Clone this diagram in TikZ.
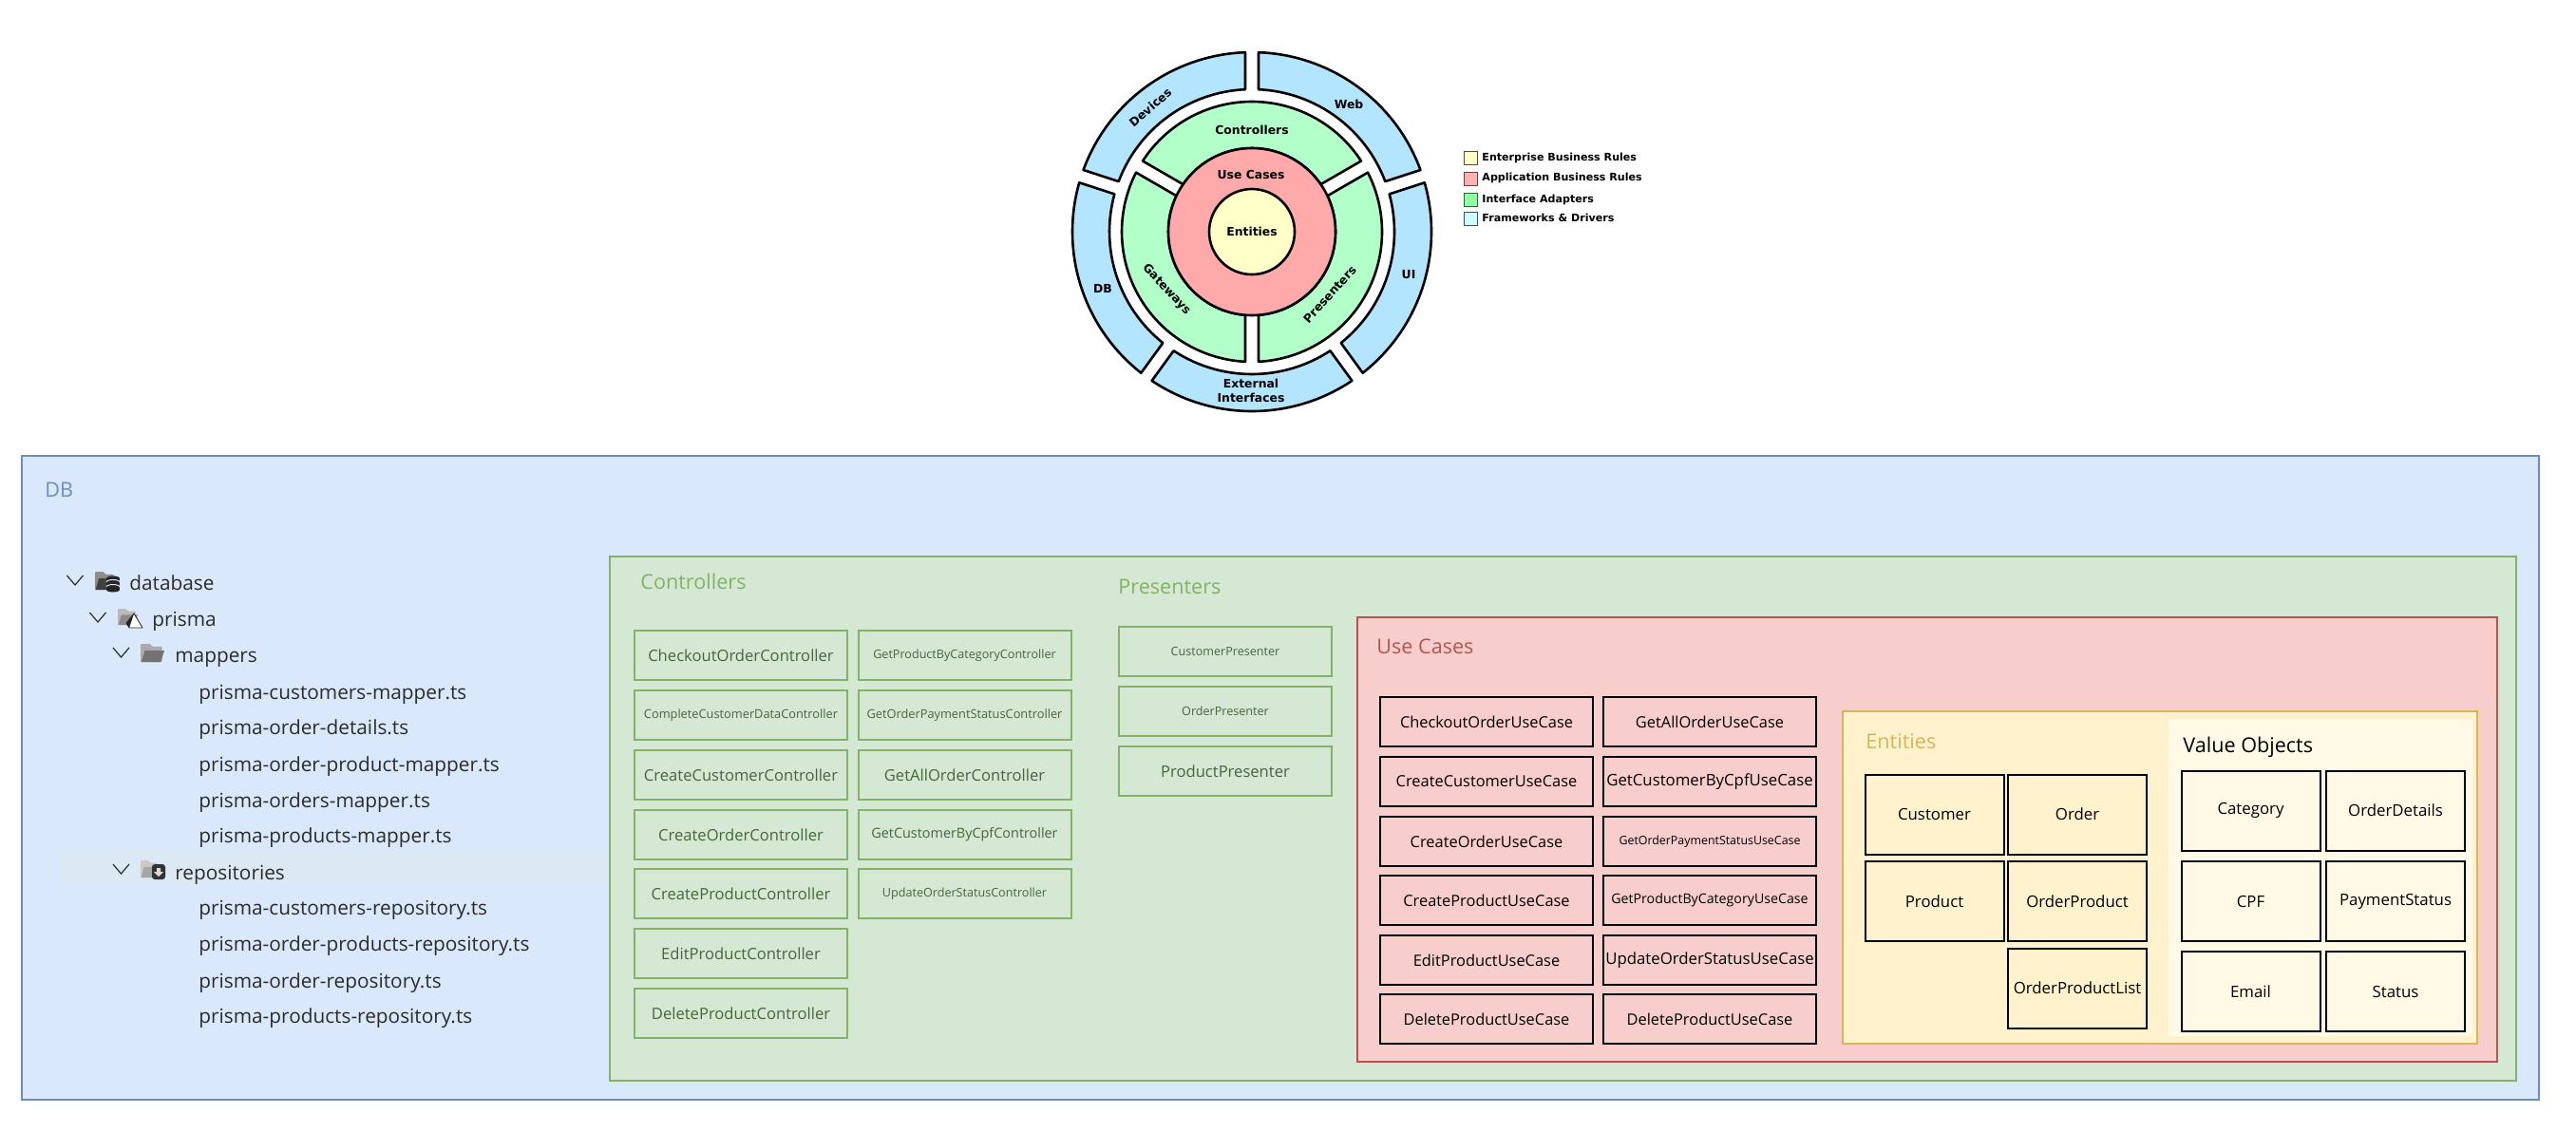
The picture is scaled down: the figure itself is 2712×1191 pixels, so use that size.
\documentclass[tikz,border=0pt]{standalone}
\usepackage{fontspec}
\setmainfont{Open Sans}
\newfontfamily\ringfont{DejaVu Sans}[BoldFont=DejaVu Sans Bold]
\definecolor{dbfill}{HTML}{DAE8FC}
\definecolor{dbline}{HTML}{6C8EBF}
\definecolor{ctrlfill}{HTML}{D5E8D4}
\definecolor{ctrlline}{HTML}{82B366}
\definecolor{ctrltext}{HTML}{47663A}
\definecolor{ucfill}{HTML}{F8CECC}
\definecolor{ucline}{HTML}{B85450}
\definecolor{entfill}{HTML}{FFF2CC}
\definecolor{entline}{HTML}{D6B656}
\definecolor{vofill}{HTML}{FFF9E6}
\definecolor{ringblue}{HTML}{B3E5FF}
\definecolor{ringgreen}{HTML}{B3FFC9}
\definecolor{ringred}{HTML}{FFAAAA}
\definecolor{ringyellow}{HTML}{FFFFC8}
\definecolor{treetext}{HTML}{2B2B2B}
\definecolor{treeband}{HTML}{DCE8F3}
\definecolor{folderdb}{HTML}{404040}
\definecolor{folderprisma}{HTML}{8C8C8C}
\definecolor{foldermap}{HTML}{737373}
\definecolor{folderrepo}{HTML}{A6A6A6}
\tikzset{
  layer/.style={draw=#1,line width=1.1pt,anchor=north west,inner sep=0pt},
  heading/.style={anchor=west,inner sep=0pt,font=\fontsize{10.8}{13}\selectfont},
  ctrlbox/.style={draw=ctrlline,line width=1pt,text=ctrltext,minimum width=112pt,minimum height=26pt,inner sep=0pt},
  ucbox/.style={draw=black,line width=1pt,minimum width=112pt,minimum height=25.7pt,inner sep=0pt},
  entbox/.style={draw=black,line width=1pt,minimum width=73pt,minimum height=42pt,inner sep=0pt},
  treeitem/.style={anchor=west,inner sep=0pt,text=treetext,text height=8pt,text depth=2.6pt,font=\fontsize{10.4}{12}\selectfont},
  ringlabel/.style={inner sep=0pt,font=\ringfont\bfseries\fontsize{6.2}{7.5}\selectfont},
  legendlabel/.style={anchor=west,inner sep=0pt,font=\ringfont\bfseries\fontsize{5.55}{6.5}\selectfont},
  legendbox/.style={draw=black!70,line width=.5pt,minimum size=7pt,inner sep=0pt,anchor=north west},
  chevron/.style={line width=.6pt,draw=treetext},
}
\newcommand{\ringseg}[5]{% colour, from, to, inner radius, outer radius
  \pgfmathsetmacro{\ao}{#2+asin(7/#5)}
  \pgfmathsetmacro{\bo}{#3-asin(7/#5)}
  \pgfmathsetmacro{\ai}{#2+asin(7/#4)}
  \pgfmathsetmacro{\bi}{#3-asin(7/#4)}
  \draw[fill=#1,line width=1.3pt,line join=round] (\ao:#5) arc[start angle=\ao,end angle=\bo,radius=#5]
    -- (\bi:#4) arc[start angle=\bi,end angle=\ai,radius=#4] -- cycle;
}
\newcommand{\folderglyph}[5]{% left, top, width, height, colour
  \fill[#5!60!white,rounded corners=0.5pt] (#1,#2) -- (#1+.4*#3,#2) -- (#1+.5*#3,#2+.15*#4) -- (#1+.9*#3,#2+.15*#4)
    -- (#1+.9*#3,#2+#4) -- (#1,#2+#4) -- cycle;
  \fill[#5] (#1+.18*#3,#2+.38*#4) -- (#1+#3,#2+.38*#4) -- (#1+.85*#3,#2+#4) -- (#1+.03*#3,#2+#4) -- cycle;
}
\begin{document}
\begin{tikzpicture}[x=0.5pt,y=-0.5pt]
  \useasboundingbox (0,0) rectangle (2712,1191);

  % clean architecture rings
  \begin{scope}[shift={(1318,244)},x=0.5pt,y=0.5pt]
    \ringseg{ringblue}{90}{162}{150}{189}
    \ringseg{ringblue}{18}{90}{150}{189}
    \ringseg{ringblue}{-54}{18}{150}{189}
    \ringseg{ringblue}{-126}{-54}{150}{189}
    \ringseg{ringblue}{-198}{-126}{150}{189}
    \ringseg{ringgreen}{30}{150}{88}{137}
    \ringseg{ringgreen}{-90}{30}{88}{137}
    \ringseg{ringgreen}{150}{270}{88}{137}
    \draw[fill=ringred,line width=1.3pt] (0,0) circle[radius=88];
    \draw[fill=ringyellow,line width=1.3pt] (0,0) circle[radius=45];
  \end{scope}
  \node[ringlabel] (entities) at (1318,244) {Entities};
  \node[ringlabel] (usecases) at (1317,184) {Use Cases};
  \node[ringlabel] (controllers) at (1318,137) {Controllers};
  \node[ringlabel,rotate=-47] (gateways) at (1228,305) {Gateways};
  \node[ringlabel,rotate=48] (presenters) at (1400,310) {Presenters};
  \node[ringlabel,rotate=41] (devices) at (1211,113) {Devices};
  \node[ringlabel] (web) at (1420,110) {Web};
  \node[ringlabel] (ui) at (1483,289) {UI};
  \node[ringlabel] (dbring) at (1161,304) {DB};
  \node[ringlabel,align=center] (external) at (1317,411) {External\\Interfaces};

  % legend
  \foreach \nm/\clr/\ybox/\ytxt/\lbl in {ent/ringyellow/159/166/Enterprise Business Rules,
      app/ringred!60!pink/181/187/Application Business Rules,
      ifc/ringgreen!80!green/203/210/Interface Adapters,
      fwk/ringblue!50!cyan!30/223/229/Frameworks \& Drivers} {
    \node[legendbox,fill=\clr] (sw\nm) at (1541,\ybox) {};
    \node[legendlabel] (lg\nm) at (1560,\ytxt) {\lbl};
  }

  % nested layers
  \node[layer=dbline,fill=dbfill,minimum width=1325pt,minimum height=339pt] (dblayer) at (22,479) {};
  \fill[treeband] (63,896) rectangle (640,931);
  \node[layer=ctrlline,fill=ctrlfill,minimum width=1003.5pt,minimum height=276pt] (ctrllayer) at (641,585) {};
  \node[layer=ucline,fill=ucfill,minimum width=600pt,minimum height=234pt] (uclayer) at (1428,649) {};
  \node[layer=entline,fill=entfill,minimum width=334pt,minimum height=175pt] (entlayer) at (1939,748) {};
  \fill[vofill] (2283,757) rectangle (2603,1091);

  \node[heading,text=dbline] (dblabel) at (47,516) {DB};
  \node[heading,text=ctrlline] (ctrllabel) at (674,612) {Controllers};
  \node[heading,text=ctrlline] (preslabel) at (1177,618) {Presenters};
  \node[heading,text=ucline] (uclabel) at (1449,681) {Use Cases};
  \node[heading,text=entline] (entlabel) at (1964,781) {Entities};
  \node[heading] (volabel) at (2298,787) {Value Objects};

  % controllers, presenters
  \foreach \y/\lbl/\sz in {690/CheckoutOrderController/8.3,753/CompleteCustomerDataController/6.4,
      816/CreateCustomerController/8.3,879/CreateOrderController/8.3,941/CreateProductController/8.3,
      1004/EditProductController/8.3,1067/DeleteProductController/8.3} {
    \node[ctrlbox,font=\fontsize{\sz}{10}\selectfont] (\lbl) at (780,\y) {\lbl};
  }
  \foreach \y/\lbl/\sz in {690/GetProductByCategoryController/6.3,753/GetOrderPaymentStatusController/6.4,
      816/GetAllOrderController/8.3,879/GetCustomerByCpfController/7.2,941/UpdateOrderStatusController/6.3} {
    \node[ctrlbox,font=\fontsize{\sz}{10}\selectfont] (\lbl) at (1015.5,\y) {\lbl};
  }
  \foreach \y/\lbl/\sz in {686/CustomerPresenter/6.3,749/OrderPresenter/6.3,812/ProductPresenter/8.3} {
    \node[ctrlbox,font=\fontsize{\sz}{10}\selectfont] (\lbl) at (1290,\y) {\lbl};
  }

  % use cases
  \foreach \y/\lbl in {760/CheckoutOrderUseCase,823/CreateCustomerUseCase,886/CreateOrderUseCase,
      948/CreateProductUseCase,1011/EditProductUseCase,1073/DeleteProductUseCase} {
    \node[ucbox,font=\fontsize{8.2}{10}\selectfont] (\lbl) at (1565,\y) {\lbl};
  }
  \foreach \y/\nm/\lbl/\sz in {760/get1/GetAllOrderUseCase/8.2,823/get2/GetCustomerByCpfUseCase/8.4,
      886/get3/GetOrderPaymentStatusUseCase/6.2,948/get4/GetProductByCategoryUseCase/7.1,
      1011/upd1/UpdateOrderStatusUseCase/8.4,1073/del2/DeleteProductUseCase/8.2} {
    \node[ucbox,font=\fontsize{\sz}{10}\selectfont] (\nm) at (1800,\y) {\lbl};
  }

  % entities, value objects
  \foreach \x/\y/\lbl in {2036.5/857.5/Customer,2187/857.5/Order,2036.5/949/Product,2187/949/OrderProduct,
      2187/1040.5/OrderProductList,2369.5/853.5/Category,2522/853.5/OrderDetails,2369.5/949/CPF,
      2522/949/PaymentStatus,2369.5/1044/Email,2522/1044/Status} {
    \node[entbox,font=\fontsize{8.4}{10}\selectfont] (\lbl) at (\x,\y) {\lbl};
  }

  % file tree
  \foreach \x/\y/\lbl in {136/616/database,160/654/prisma,184/692/mappers,209/731/prisma-customers-mapper.ts,
      209/768/prisma-order-details.ts,209/807/prisma-order-product-mapper.ts,209/845/prisma-orders-mapper.ts,
      209/882/prisma-products-mapper.ts,184/921/repositories,209/958/prisma-customers-repository.ts,
      209/996/prisma-order-products-repository.ts,209/1035/prisma-order-repository.ts,
      209/1072/prisma-products-repository.ts} {
    \node[treeitem] (\lbl) at (\x,\y) {\lbl};
  }
  \foreach \x/\y in {79/611,103/650,127.5/687,127.5/915} {
    \draw[chevron] (\x-8.5,\y-5) -- (\x,\y+5) -- (\x+8.5,\y-5);
  }

  % folder icons
  \folderglyph{100}{602}{22}{19}{folderdb}
  \fill[black!85] (112,609) rectangle (126,621);
  \fill[black!85] (119,609) ellipse[x radius=7,y radius=2.5];
  \fill[black!85] (119,621) ellipse[x radius=7,y radius=2.5];
  \draw[dbfill,line width=.5pt] (112,613) arc[start angle=180,end angle=360,x radius=7,y radius=2.5];
  \draw[dbfill,line width=.5pt] (112,618) arc[start angle=180,end angle=360,x radius=7,y radius=2.5];
  \folderglyph{124}{641}{21}{17}{folderprisma}
  \fill[white] (141,646) -- (150,661) -- (136,661) -- cycle;
  \fill[black!85] (141,646) -- (136,661) -- (133,656) -- cycle;
  \draw[black!85,line width=.4pt,line join=round] (141,646) -- (150,661) -- (136,661) -- (133,656) -- cycle;
  \folderglyph{148}{678}{25}{19}{foldermap}
  \folderglyph{148}{906}{20}{18}{folderrepo}
  \fill[black!80,rounded corners=1.5pt] (160,910) rectangle (174,926);
  \fill[black!15] (165,914) -- (169,914) -- (169,918) -- (172,918) -- (167,923) -- (162,918) -- (165,918) -- cycle;
\end{tikzpicture}
\end{document}
